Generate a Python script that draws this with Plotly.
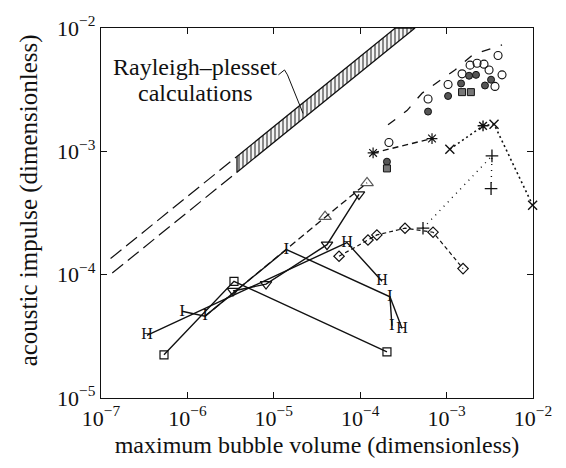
import plotly.graph_objects as go

# ---------------- data ----------------
tick_vals_x = [1e-7, 1e-6, 1e-5, 1e-4, 1e-3, 1e-2]
tick_text_x = ["10<sup>−7</sup>", "10<sup>−6</sup>", "10<sup>−5</sup>", "10<sup>−4</sup>", "10<sup>−3</sup>", "10<sup>−2</sup>"]
tick_vals_y = [1e-5, 1e-4, 1e-3, 1e-2]
tick_text_y = ["10<sup>−5</sup>", "10<sup>−4</sup>", "10<sup>−3</sup>", "10<sup>−2</sup>"]

# Rayleigh-Plesset band (dashed part then hatched part)
rp_upper_x = [1.29e-7, 3.75e-6, 2.55e-4]
rp_upper_y = [1.35e-4, 9.10e-4, 1.0e-2]
rp_lower_x = [1.35e-7, 3.75e-6, 4.31e-4]
rp_lower_y = [1.03e-4, 6.78e-4, 1.0e-2]

leader_x = [1.13e-5, 1.33e-5, 1.44e-5, 2.18e-5]
leader_y = [4.17e-3, 4.57e-3, 4.17e-3, 2.03e-3]

# H series
h_x = [3.40e-7, 7.03e-5, 1.79e-4]
h_y = [3.22e-5, 1.82e-4, 8.83e-5]
h2_x = [2.21e-4, 3.05e-4]
h2_y = [6.62e-5, 3.66e-5]
# I series
i_x = [8.66e-7, 1.60e-6, 1.40e-5, 2.21e-4, 2.33e-4]
i_y = [5.05e-5, 4.61e-5, 1.60e-4, 6.62e-5, 3.85e-5]
# squares
sq_x = [5.36e-7, 3.46e-6, 2.04e-4]
sq_y = [2.24e-5, 8.83e-5, 2.37e-5]
# triangle down
td_x = [3.37e-6, 8.13e-6, 4.13e-5, 9.68e-5]
td_y = [7.38e-5, 8.38e-5, 1.75e-4, 4.47e-4]
# triangle up (dashed)
tu_x = [1.60e-6, 3.92e-5, 1.20e-4]
tu_y = [4.61e-5, 2.95e-4, 5.55e-4]
# diamonds (short dashed)
dm_x = [5.69e-5, 1.23e-4, 1.56e-4, 3.30e-4, 6.97e-4, 1.55e-3]
dm_y = [1.41e-4, 1.91e-4, 2.10e-4, 2.38e-4, 2.21e-4, 1.12e-4]
# plus (dotted)
pl_x = [5.33e-4, 3.35e-3, 3.27e-3]
pl_y = [2.38e-4, 9.18e-4, 4.98e-4]
# crosses (dotted)
cx_x = [1.09e-3, 2.64e-3, 3.54e-3, 9.9e-3]
cx_y = [1.04e-3, 1.61e-3, 1.66e-3, 3.66e-4]
# asterisks (dashed)
as_x = [1.41e-4, 6.78e-4]
as_y = [9.70e-4, 1.27e-3]
# open circles
oc_x = [2.15e-4, 6.10e-4, 1.04e-3, 1.51e-3, 1.87e-3, 2.25e-3, 2.71e-3, 3.10e-3, 3.63e-3, 3.94e-3, 4.38e-3]
oc_y = [1.18e-3, 2.66e-3, 3.48e-3, 4.25e-3, 5.00e-3, 5.18e-3, 5.09e-3, 4.57e-3, 3.36e-3, 5.98e-3, 4.17e-3]
# filled circles
fc_x = [2.04e-4, 6.10e-4, 1.04e-3, 1.47e-3, 1.82e-3, 2.19e-3, 2.78e-3, 3.27e-3]
fc_y = [8.24e-4, 2.10e-3, 2.81e-3, 3.55e-3, 4.10e-3, 4.17e-3, 3.42e-3, 3.81e-3]
# filled squares
fs_x = [2.04e-4, 1.51e-3, 1.91e-3]
fs_y = [7.27e-4, 3.02e-3, 3.02e-3]
# long-dashed trend through upper cluster
tr_x = [2.10e-4, 3.48e-4, 5.19e-4, 8.61e-4, 1.25e-3, 2.02e-3, 4.38e-3]
tr_y = [1.64e-3, 2.14e-3, 2.96e-3, 3.81e-3, 4.57e-3, 6.09e-3, 7.30e-3]

SERIF = "Liberation Serif, Times New Roman, serif"
K = "#111111"

fig = go.Figure()

def line_tr(x, y, dash="solid", width=1.3, **kw):
    fig.add_trace(go.Scatter(x=x, y=y, mode="lines", line=dict(color=K, width=width, dash=dash),
                             hoverinfo="skip", showlegend=False, **kw))

# Rayleigh-Plesset dashed portions
line_tr(rp_upper_x[:2], rp_upper_y[:2], dash="14px,6px", width=1.2)
line_tr(rp_lower_x[:2], rp_lower_y[:2], dash="14px,6px", width=1.2)
# hatched band
fig.add_trace(go.Scatter(
    x=[rp_upper_x[1], rp_upper_x[2], rp_lower_x[2], rp_lower_x[1], rp_upper_x[1]],
    y=[rp_upper_y[1], rp_upper_y[2], rp_lower_y[2], rp_lower_y[1], rp_upper_y[1]],
    mode="lines", fill="toself", fillcolor="white",
    fillpattern=dict(shape="|", fgcolor=K, bgcolor="white", size=4, solidity=0.55),
    line=dict(color=K, width=1.3), hoverinfo="skip", showlegend=False))

# leader line for annotation
line_tr(leader_x, leader_y, width=1.0)

# long-dashed trend
line_tr(tr_x, tr_y, dash="9px,11px", width=1.3)

# squares series
fig.add_trace(go.Scatter(x=sq_x, y=sq_y, mode="lines+markers", line=dict(color=K, width=1.4),
                         marker=dict(symbol="square-open", size=8, color=K, line=dict(width=1.2)),
                         showlegend=False))
# triangle down
fig.add_trace(go.Scatter(x=td_x, y=td_y, mode="lines+markers", line=dict(color=K, width=1.4),
                         marker=dict(symbol="triangle-down-open", size=10, color=K, line=dict(width=1.2)),
                         showlegend=False))
# triangle up dashed
fig.add_trace(go.Scatter(x=tu_x, y=tu_y, mode="lines+markers", line=dict(color=K, width=1.3, dash="7px,4px"),
                         marker=dict(symbol="triangle-up-open", size=[0, 11, 11], color=K, line=dict(width=1.2)),
                         showlegend=False))
# I series
fig.add_trace(go.Scatter(x=i_x, y=i_y, mode="lines+text", text=["I"] * len(i_x),
                         textposition="middle center", textfont=dict(family=SERIF, size=17, color=K),
                         line=dict(color=K, width=1.4), showlegend=False))
# H series
fig.add_trace(go.Scatter(x=h_x, y=h_y, mode="lines+text", text=["H"] * len(h_x),
                         textposition="middle center", textfont=dict(family=SERIF, size=16, color=K),
                         line=dict(color=K, width=1.4), showlegend=False))
fig.add_trace(go.Scatter(x=h2_x, y=h2_y, mode="lines+text", text=[" ", "H"],
                         textposition="middle center", textfont=dict(family=SERIF, size=16, color=K),
                         line=dict(color=K, width=1.4), showlegend=False))
# diamonds short dashed
fig.add_trace(go.Scatter(x=dm_x, y=dm_y, mode="lines+markers", line=dict(color=K, width=1.2, dash="4px,3px"),
                         marker=dict(symbol="diamond-open", size=8, color=K, line=dict(width=1.2)),
                         showlegend=False))
# plus dotted
fig.add_trace(go.Scatter(x=pl_x, y=pl_y, mode="lines+markers", line=dict(color=K, width=1.4, dash="1px,5px"),
                         marker=dict(symbol="cross-thin-open", size=9, color=K, line=dict(width=1.3)),
                         showlegend=False))
# crosses dotted
fig.add_trace(go.Scatter(x=cx_x, y=cx_y, mode="lines+markers", line=dict(color=K, width=1.6, dash="2px,3px"),
                         marker=dict(symbol=["x-thin-open", "asterisk-open", "x-thin-open", "x-thin-open"],
                                     size=9, color=K, line=dict(width=1.4)),
                         cliponaxis=False, showlegend=False))
# asterisks dashed
fig.add_trace(go.Scatter(x=as_x, y=as_y, mode="lines+markers", line=dict(color=K, width=1.4, dash="6px,4px"),
                         marker=dict(symbol="asterisk-open", size=9, color=K, line=dict(width=1.2)),
                         showlegend=False))
# open circles
fig.add_trace(go.Scatter(x=oc_x, y=oc_y, mode="markers",
                         marker=dict(symbol="circle-open", size=8, color=K, line=dict(width=1.1)),
                         showlegend=False))
# filled circles
fig.add_trace(go.Scatter(x=fc_x, y=fc_y, mode="markers",
                         marker=dict(symbol="circle", size=7, color="#555555", line=dict(color=K, width=1)),
                         showlegend=False))
# filled squares
fig.add_trace(go.Scatter(x=fs_x, y=fs_y, mode="markers",
                         marker=dict(symbol="square", size=7, color="#777777", line=dict(color=K, width=1)),
                         showlegend=False))

axis_common = dict(type="log", showgrid=False, zeroline=False, showline=True, mirror="ticks",
                   linecolor=K, linewidth=1.3, ticks="inside", ticklen=6, tickcolor=K,
                   ticklabeloverflow="allow",
                   tickfont=dict(family=SERIF, size=22, color=K))

fig.update_layout(
    width=566, height=468,
    margin=dict(l=101, r=33, t=14, b=70),
    paper_bgcolor="white", plot_bgcolor="white",
    xaxis=dict(range=[-7, -2], tickvals=tick_vals_x, ticktext=tick_text_x,
               title=dict(text="maximum bubble volume (dimensionless)",
                          font=dict(family=SERIF, size=24, color=K), standoff=6),
               **axis_common),
    yaxis=dict(range=[-5, -2], tickvals=tick_vals_y, ticktext=tick_text_y, **axis_common),
    annotations=[
        dict(text="Rayleigh–plesset", xref="paper", yref="paper", x=0.2176, y=0.894,
             showarrow=False, font=dict(family=SERIF, size=24, color=K), xanchor="center", yanchor="middle"),
        dict(text="calculations", xref="paper", yref="paper", x=0.2176, y=0.824,
             showarrow=False, font=dict(family=SERIF, size=24, color=K), xanchor="center", yanchor="middle"),
        dict(text="acoustic impulse (dimensionless)", xref="paper", yref="paper", x=-0.166, y=0.535,
             textangle=-90, showarrow=False, font=dict(family=SERIF, size=25, color=K),
             xanchor="center", yanchor="middle"),
    ],
)

fig.write_html("out.html")
